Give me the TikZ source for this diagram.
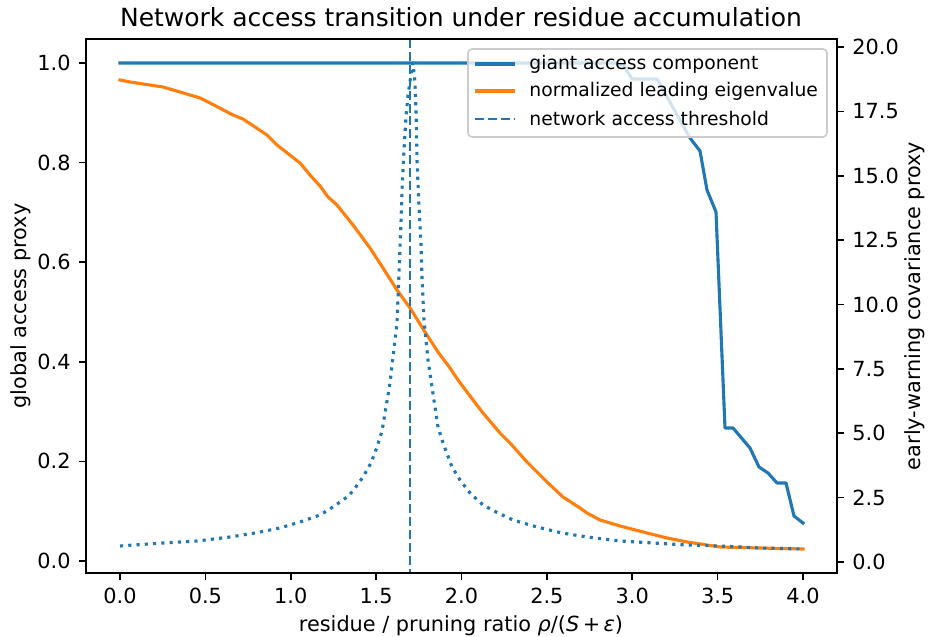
\documentclass[tikz,border=0pt]{standalone}
\usepackage{fontspec}
\setmainfont{DejaVu Sans}
\definecolor{cA}{HTML}{1F77B4}
\definecolor{cB}{HTML}{FF7F0E}
\definecolor{frameg}{gray}{0.8}
\begin{document}
\begin{tikzpicture}[x=0.48pt,y=-0.48pt,
  spine/.style={line width=0.8pt,line cap=rect},
  tk/.style={line width=0.8pt},
  lbl/.style={font=\fontsize{10}{12}\selectfont,inner sep=0pt},
  leglbl/.style={font=\fontsize{9}{11}\selectfont,inner sep=0pt},
  ttl/.style={font=\fontsize{12}{14}\selectfont,inner sep=0pt},
  giant/.style={cA,line width=1.5pt,line join=round,line cap=rect},
  eig/.style={cB,line width=1.5pt,line join=round,line cap=rect},
  thr/.style={cA,line width=1.1pt,dash pattern=on 4.3pt off 1.9pt},
  cov/.style={cA,line width=1.5pt,line join=round,dash pattern=on 1.5pt off 2.475pt},
  legbox/.style={draw=frameg,fill=white,fill opacity=0.8,line width=0.8pt,rounded corners=2pt}]
\useasboundingbox (0,0) rectangle (930,637);
% curves of the left axis
\draw[giant] (120,63) -- (615,63) -- (624,66) -- (632,79) -- (657,79) -- (690,138) -- (700,151) -- (707,190) -- (716,212) -- (725,428) -- (733,428) -- (750,448) -- (759,467) -- (768,473) -- (777,483) -- (786,483) -- (794,516) -- (803,523);
\draw[eig] (120,80) -- (130,82) -- (163,87) -- (180,92) -- (200,98) -- (210,103) -- (233,115) -- (243,119) -- (267,135) -- (277,145) -- (300,163) -- (310,175) -- (320,186) -- (328,197) -- (337,205) -- (353,225) -- (370,248) -- (383,268) -- (397,290) -- (410,308) -- (425,332) -- (438,352) -- (450,368) -- (458,380) -- (473,400) -- (483,413) -- (500,433) -- (510,443) -- (527,462) -- (535,470) -- (547,482) -- (563,497) -- (580,508) -- (587,513) -- (600,520) -- (620,526) -- (647,533) -- (667,538) -- (687,542) -- (707,545) -- (720,547) -- (760,548) -- (803,549);
\coordinate (vt) at (410,39);
\coordinate (vb) at (410,573);
\draw[thr] (vt) -- (vb);
% legend
\draw[legbox] (468,49) rectangle (827,137);
\coordinate (la1) at (475,64); \coordinate (lb1) at (515,64);
\coordinate (la2) at (475,91); \coordinate (lb2) at (515,91);
\coordinate (la3) at (475,119); \coordinate (lb3) at (515,119);
\draw[giant,line cap=butt] (la1) -- (lb1);
\draw[eig,line cap=butt] (la2) -- (lb2);
\draw[thr] (la3) -- (lb3);
\node[leglbl,anchor=west] (lt1) at (529,64) {giant access component};
\node[leglbl,anchor=west] (lt2) at (529,91) {normalized leading eigenvalue};
\node[leglbl,anchor=west] (lt3) at (529,119) {network access threshold};
% right-axis curve
\draw[cov] (120,546) -- (163,543) -- (197,541) -- (230,537) -- (255,533) -- (280,528) -- (303,521) -- (320,515) -- (333,507) -- (347,497) -- (353,491) -- (363,477) -- (371,463) -- (377,447) -- (382,431) -- (385,413) -- (390,383) -- (393,357) -- (397,323) -- (399,273) -- (401,223) -- (402,190) -- (404,150) -- (406,117) -- (408,95) -- (412,68) -- (413,63) -- (415,83) -- (416,110) -- (417,160) -- (419,207) -- (421,243) -- (422,278) -- (424,320) -- (428,360) -- (432,387) -- (438,427) -- (443,443) -- (452,467) -- (460,480) -- (470,493) -- (483,505) -- (498,513) -- (513,520) -- (537,527) -- (562,533) -- (587,537) -- (620,541) -- (653,543) -- (687,545) -- (720,546) -- (760,548) -- (803,549);
% spines
\draw[spine] (86,39) rectangle (837,573);
% x ticks
\foreach \v [count=\i] in {0.0,0.5,1.0,1.5,2.0,2.5,3.0,3.5,4.0}{
  \draw[tk] ({120+170.75*\v},573) -- ({120+170.75*\v},580);
  \node[lbl,anchor=north] (xt\i) at ({120+170.75*\v},588) {\v};
}
% left y ticks
\foreach \v [count=\i] in {0.0,0.2,0.4,0.6,0.8,1.0}{
  \draw[tk] (86,{561-498*\v}) -- (79,{561-498*\v});
  \node[lbl,anchor=east] (yl\i) at (71,{561-498*\v}) {\v};
}
% right y ticks
\foreach \v [count=\i] in {0.0,2.5,5.0,7.5,10.0,12.5,15.0,17.5,20.0}{
  \draw[tk] (837,{562-25.75*\v}) -- (844,{562-25.75*\v});
  \node[lbl,anchor=west] (yr\i) at (852,{562-25.75*\v}) {\v};
}
% labels
\node[ttl] (title) at (461,17) {Network access transition under residue accumulation};
\node[lbl] (xlab) at (461,626) {residue / pruning ratio \textit{ρ}/(\textit{S}\,+\,\textit{ε})};
\node[lbl,rotate=90] (ylab) at (21,306) {global access proxy};
\node[lbl,rotate=90] (yrlab) at (915,306) {early-warning covariance proxy};
\end{tikzpicture}
\end{document}
